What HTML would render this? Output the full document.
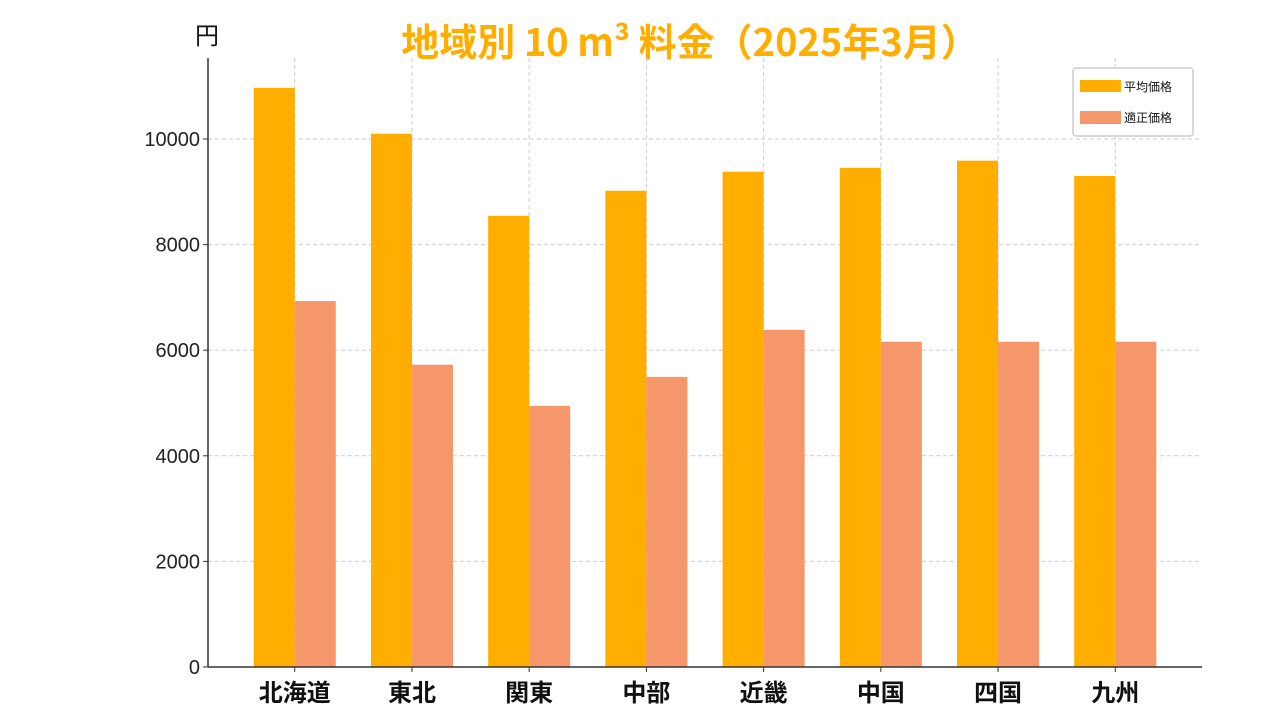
<!DOCTYPE html>
<html><head><meta charset="utf-8">
<style>
html,body{margin:0;padding:0;background:#fff;width:1280px;height:720px;overflow:hidden}
svg text{font-family:"Liberation Sans","Noto Sans CJK JP",sans-serif}
</style></head>
<body>
<svg id="chart" width="1280" height="720">
<text x="690" y="56" text-anchor="middle" font-size="38" fill="#FFAE00" font-weight="bold" style="font-family:'Noto Sans CJK JP',sans-serif">地域別 10 m³ 料金（2025年3月）</text>
<text x="207" y="44" text-anchor="middle" font-size="24" fill="#111" style="font-family:'Noto Sans CJK JP',sans-serif">円</text>
<g id="grid"></g><g id="bars"></g><g id="axes"></g>
<g>
<rect x="1073" y="68" width="120" height="68" rx="3" fill="#fff" stroke="#ccc" stroke-width="1.5"/>
<rect x="1080" y="80" width="41" height="12" fill="#FFAE00"/>
<text x="1124" y="91" font-size="12" fill="#111">平均価格</text>
<rect x="1080" y="111" width="41" height="13" fill="#F5976A"/>
<text x="1124" y="122" font-size="12" fill="#111">適正価格</text>
</g>
</svg>
<script>
const categories=["北海道","東北","関東","中部","近畿","中国","四国","九州"];
const averagePrice=[10970,10100,8545,9020,9380,9455,9590,9300];
const fairPrice=[6930,5725,4945,5495,6385,6160,6160,6160];
const yTicks=[0,2000,4000,6000,8000,10000];
const NS="http://www.w3.org/2000/svg";
const L=208,R=1202,T=58,B=667;
const xmin=-0.74,xmax=7.74,ymax=(B-T)/52.8*1000;
const x=i=>L+(i-xmin)/(xmax-xmin)*(R-L);
const y=v=>B-v/ymax*(B-T);
const bw=0.35*(R-L)/(xmax-xmin);
function mk(tag,attrs,parent){const e=document.createElementNS(NS,tag);for(const k in attrs)e.setAttribute(k,attrs[k]);parent.appendChild(e);return e;}
const grid=document.getElementById('grid'),bars=document.getElementById('bars'),axes=document.getElementById('axes');
yTicks.forEach(t=>{
 if(t>0){const g=mk('line',{x1:L,x2:R,y1:y(t),y2:y(t),stroke:'#ccc','stroke-dasharray':'4,3'},grid);
 
 }
 const tx=mk('text',{x:L-8,y:y(t)+7,'text-anchor':'end','font-size':20,fill:'#222'},axes);tx.textContent=t;
 
 
 mk('line',{x1:L-5,x2:L,y1:y(t),y2:y(t),stroke:'#333'},axes);
});
categories.forEach((c,i)=>{
 const g=mk('line',{x1:x(i),x2:x(i),y1:T,y2:B,stroke:'#ccc','stroke-dasharray':'4,3'},grid);
 
 
 const a=mk('rect',{x:x(i)-bw,y:y(averagePrice[i]),width:bw,height:B-y(averagePrice[i]),fill:'#FFAE00'},bars);
 
 
 const f=mk('rect',{x:x(i),y:y(fairPrice[i]),width:bw,height:B-y(fairPrice[i]),fill:'#F5976A'},bars);
 
 
 const tx=mk('text',{x:x(i),y:701,'text-anchor':'middle','font-size':24,fill:'#111','font-weight':'bold'},axes);tx.textContent=c;
 
 
 mk('line',{x1:x(i),x2:x(i),y1:B,y2:B+5,stroke:'#333'},axes);
});
const ya=mk('line',{x1:L,x2:L,y1:T,y2:B,stroke:'#333','stroke-width':1.5},axes);


const xa=mk('line',{x1:L,x2:R,y1:B,y2:B,stroke:'#333','stroke-width':1.5},axes);


</script>
</body></html>
